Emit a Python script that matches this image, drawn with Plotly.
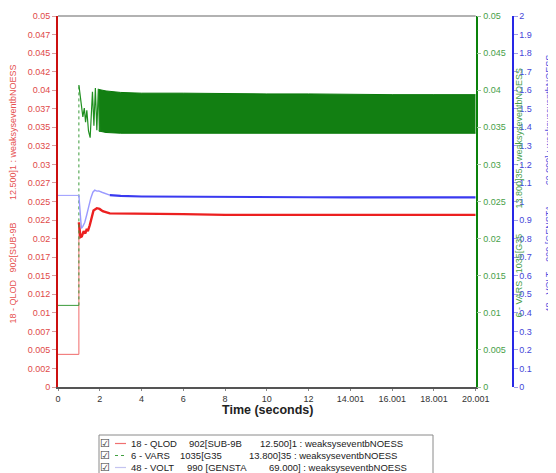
import plotly.graph_objects as go

# ---------------- data ----------------
time_qlod = [0.0, 1.0, 1.0, 1.075, 1.14, 1.23, 1.31, 1.38, 1.43, 1.52, 1.70, 1.86, 1.99, 2.14,
             2.48, 3.0, 4.0, 6.0, 8.0, 10.0, 12.0, 14.0, 16.0, 18.0, 20.001]
qlod = [0.0044, 0.0044, 0.0222, 0.0202, 0.0203, 0.0210, 0.0207, 0.0213, 0.0210, 0.0218, 0.0238,
        0.0241, 0.0240, 0.0237, 0.0234, 0.0234, 0.0233, 0.0233, 0.0232, 0.0232, 0.0232, 0.0232,
        0.0232, 0.0232, 0.0232]

time_volt = [0.0, 1.0, 1.12, 1.19, 1.28, 1.38, 1.47, 1.57, 1.67, 1.76, 1.86, 1.95, 2.10, 2.29,
             2.48, 3.0, 4.0, 6.0, 8.0, 10.0, 12.0, 14.0, 16.0, 18.0, 20.001]
volt = [1.033, 1.033, 0.855, 0.866, 0.887, 0.930, 0.979, 1.018, 1.050, 1.061, 1.056, 1.057, 1.050,
        1.040, 1.034, 1.030, 1.027, 1.025, 1.024, 1.023, 1.023, 1.022, 1.022, 1.022, 1.022]

time_vars = [0.0, 1.0, 1.0, 1.08, 1.19, 1.26, 1.32, 1.38, 1.46, 1.54, 1.65, 1.72, 1.79, 1.86,
             1.93, 2.00]
vars_ = [0.011, 0.011, 0.0407, 0.0387, 0.0364, 0.0376, 0.0357, 0.0373, 0.0345, 0.0336, 0.0398,
         0.0352, 0.0403, 0.0346, 0.0402, 0.0344]

# envelope of the fast VARS oscillation (solid band)
band_time = [1.95, 2.3, 3.0, 4.0, 6.0, 8.0, 10.0, 12.0, 14.0, 16.0, 18.0, 20.001]
band_hi = [0.0401, 0.0399, 0.0397, 0.0396, 0.0396, 0.0395, 0.0395, 0.0395, 0.0394, 0.0394, 0.0394,
           0.0394]
band_lo = [0.0345, 0.0343, 0.0342, 0.0342, 0.0342, 0.0342, 0.0342, 0.0342, 0.0342, 0.0342, 0.0342,
           0.0342]

# axis ticks
x_tickvals = [0, 2, 4, 6, 8, 10, 12, 14.001, 16.001, 18.001, 20.001]
x_ticktext = ["0", "2", "4", "6", "8", "10", "12", "14.001", "16.001", "18.001", "20.001"]

left_tickvals = [0, 0.0025, 0.005, 0.0075, 0.01, 0.0125, 0.015, 0.0175, 0.02, 0.0225, 0.025,
                 0.0275, 0.03, 0.0325, 0.035, 0.0375, 0.04, 0.0425, 0.045, 0.0475, 0.05]
left_ticktext = ["0", "0.002", "0.005", "0.007", "0.01", "0.012", "0.015", "0.017", "0.02",
                 "0.022", "0.025", "0.027", "0.03", "0.032", "0.035", "0.037", "0.04", "0.042",
                 "0.045", "0.047", "0.05"]

green_tickvals = [0, 0.005, 0.01, 0.015, 0.02, 0.025, 0.03, 0.035, 0.04, 0.045, 0.05]
green_ticktext = ["0", "0.005", "0.01", "0.015", "0.02", "0.025", "0.03", "0.035", "0.04",
                  "0.045", "0.05"]

blue_tickvals = [0, 0.1, 0.2, 0.3, 0.4, 0.5, 0.6, 0.7, 0.8, 0.9, 1.0, 1.1, 1.2, 1.3, 1.4, 1.5,
                 1.6, 1.7, 1.8, 1.9, 2.0]
blue_ticktext = ["0", "0.1", "0.2", "0.3", "0.4", "0.5", "0.6", "0.7", "0.8", "0.9", "1", "1.1",
                 "1.2", "1.3", "1.4", "1.5", "1.6", "1.7", "1.8", "1.9", "2"]

NB = "\u00a0"
title_qlod = "18 - QLOD" + NB * 3 + "902[SUB-9B" + NB * 9 + "12.500]1 : weaksyseventbNOESS"
title_vars = "6 - VARS" + NB * 3 + "1035[G35" + NB * 10 + "13.800]35 : weaksyseventbNOESS"
title_volt = "48 - VOLT" + NB * 4 + "990 [GENSTA" + NB * 8 + "69.000] : weaksyseventbNOESS"

legend_cols = [
    ["18 - QLOD", "902[SUB-9B", "12.500]1 : weaksyseventbNOESS"],
    ["6 - VARS", "1035[G35", "13.800]35 : weaksyseventbNOESS"],
    ["48 - VOLT", "990 [GENSTA", "69.000] : weaksyseventbNOESS"],
]

# ---------------- geometry (page has an 8px body margin) ----------------
OFF = 8
W, H = 556 - OFF, 473 - OFF
ML, MR, MT, MB = 50, 2, 8, 86
PW = W - ML - MR
PH = H - MT - MB


def xp(ref_px):
    return (ref_px - OFF - ML) / PW


def yp(ref_py):
    return (H - MB - (ref_py - OFF)) / PH


X_END = xp(475.7)

RED = "#ec2020"
RED_L = "#f06a6a"
GREEN = "#1f8f1f"
BLUE = "#3a3af0"
BLUE_L = "#9a9aff"

fig = go.Figure()

# QLOD (red, left axis)
fig.add_trace(go.Scatter(x=time_qlod[:3], y=qlod[:3], mode="lines",
                         line=dict(color=RED_L, width=1), yaxis="y", hoverinfo="skip"))
fig.add_trace(go.Scatter(x=time_qlod[2:], y=qlod[2:], mode="lines",
                         line=dict(color=RED, width=2.4), yaxis="y", name="QLOD"))

# VARS (green, right axis)
fig.add_trace(go.Scatter(x=band_time, y=band_lo, mode="lines",
                         line=dict(color="#0a7a0a", width=1), yaxis="y2", hoverinfo="skip"))
fig.add_trace(go.Scatter(x=band_time, y=band_hi, mode="lines", fill="tonexty",
                         fillcolor="rgba(8,122,8,0.96)",
                         line=dict(color="#0a7a0a", width=1), yaxis="y2", hoverinfo="skip"))
fig.add_trace(go.Scatter(x=time_vars[:2], y=vars_[:2], mode="lines",
                         line=dict(color="#3a9a3a", width=1), yaxis="y2", hoverinfo="skip"))
fig.add_trace(go.Scatter(x=time_vars[1:3], y=vars_[1:3], mode="lines",
                         line=dict(color="#3a9a3a", width=1, dash="dot"), yaxis="y2",
                         hoverinfo="skip"))
fig.add_trace(go.Scatter(x=time_vars[2:], y=vars_[2:], mode="lines",
                         line=dict(color=GREEN, width=1.2), yaxis="y2", name="VARS"))

# VOLT (blue, far-right axis)
fig.add_trace(go.Scatter(x=time_volt[:2], y=volt[:2], mode="lines",
                         line=dict(color=BLUE_L, width=1), yaxis="y3", hoverinfo="skip"))
fig.add_trace(go.Scatter(x=time_volt[1:15], y=volt[1:15], mode="lines",
                         line=dict(color=BLUE_L, width=1.4), yaxis="y3", hoverinfo="skip"))
fig.add_trace(go.Scatter(x=time_volt[14:], y=volt[14:], mode="lines",
                         line=dict(color=BLUE, width=2.2), yaxis="y3", name="VOLT"))

tickfont = dict(family="Liberation Sans, Arial, sans-serif", size=9)

fig.update_layout(
    width=W, height=H,
    margin=dict(l=ML, r=MR, t=MT, b=MB, autoexpand=False),
    paper_bgcolor="white", plot_bgcolor="white",
    showlegend=False,
    font=dict(family="Liberation Sans, Arial, sans-serif", size=9, color="#333"),
    xaxis=dict(domain=[0, X_END], range=[0, 20.001], tickvals=x_tickvals, ticktext=x_ticktext,
               showgrid=False, zeroline=False, showline=True, linecolor="#555", linewidth=2,
               ticks="outside", ticklen=2, tickcolor="#888",
               tickfont=dict(tickfont, color="#333")),
    yaxis=dict(range=[0, 0.05], tickvals=left_tickvals, ticktext=left_ticktext,
               showgrid=False, zeroline=False, showline=True, linecolor="#cc1010", linewidth=2,
               ticks="outside", ticklen=4, tickcolor="#d9a0a0",
               tickfont=dict(tickfont, color="#e04848")),
    yaxis2=dict(range=[0, 0.05], tickvals=green_tickvals, ticktext=green_ticktext,
                overlaying="y", side="right", anchor="x",
                showgrid=False, zeroline=False, showline=True, linecolor="#0a820a",
                linewidth=1.5, ticks="outside", ticklen=4, tickcolor="#9cc89c",
                tickfont=dict(tickfont, color="#48a048")),
    yaxis3=dict(range=[0, 2], tickvals=blue_tickvals, ticktext=blue_ticktext,
                overlaying="y", side="right", anchor="free", position=xp(512.5),
                showgrid=False, zeroline=False, showline=True, linecolor="#2828e6",
                linewidth=2, ticks="outside", ticklen=4, tickcolor="#a0a0e8",
                tickfont=dict(tickfont, color="#4545d8")),
)

shapes = []
# top frame line
shapes.append(dict(type="line", xref="paper", yref="paper", x0=0, x1=X_END, y0=1, y1=1,
                   line=dict(color="#999", width=1.5)))
# legend box
shapes.append(dict(type="rect", xref="paper", yref="paper", x0=xp(99), x1=xp(433),
                   y0=yp(480), y1=yp(435), line=dict(color="#8a8a8a", width=1),
                   fillcolor="white", layer="above"))

annotations = []
annotations.append(dict(text="<b>Time (seconds)</b>", xref="paper", yref="paper",
                        x=xp(267), y=yp(410), showarrow=False, xanchor="center",
                        yanchor="middle", font=dict(size=12.5, color="#222")))
annotations.append(dict(text=title_qlod, xref="paper", yref="paper", x=xp(12), y=yp(194.5),
                        textangle=-90, showarrow=False, xanchor="center", yanchor="middle",
                        font=dict(size=9, color="#e65050")))
annotations.append(dict(text=title_vars, xref="paper", yref="paper", x=xp(519), y=yp(193.5),
                        textangle=-90, showarrow=False, xanchor="center", yanchor="middle",
                        font=dict(size=9, color="#4aa04a")))
annotations.append(dict(text=title_volt, xref="paper", yref="paper", x=xp(548), y=yp(183.5),
                        textangle=-90, showarrow=False, xanchor="center", yanchor="middle",
                        font=dict(size=9, color="#4f4fe0")))

legend_rows_y = [443.5, 455.5, 467.5]
legend_line_styles = [dict(color="#f07070", width=1.2),
                      dict(color="#40a040", width=1.2, dash="dot"),
                      dict(color="#c4c4f0", width=1.2)]
col_x = [[129, 187, 258], [129, 178, 247], [129, 185, 267]]
for i, ry in enumerate(legend_rows_y):
    annotations.append(dict(text="\u2611", xref="paper", yref="paper", x=xp(104.5), y=yp(ry),
                            showarrow=False, xanchor="center", yanchor="middle",
                            font=dict(family="DejaVu Sans", size=11, color="#333")))
    shapes.append(dict(type="line", xref="paper", yref="paper", x0=xp(115), x1=xp(126),
                       y0=yp(ry), y1=yp(ry), line=legend_line_styles[i], layer="above"))
    for j, txt in enumerate(legend_cols[i]):
        annotations.append(dict(text=txt, xref="paper", yref="paper", x=xp(col_x[i][j]),
                                y=yp(ry), showarrow=False, xanchor="left", yanchor="middle",
                                font=dict(size=9.5, color="#222")))

fig.update_layout(shapes=shapes, annotations=annotations)

fig.write_html("out.html")
